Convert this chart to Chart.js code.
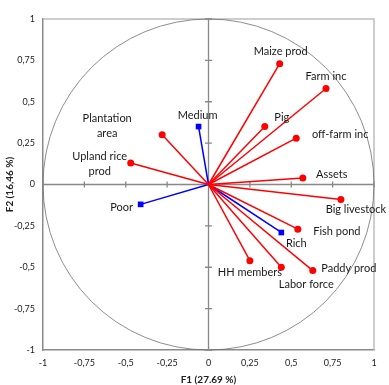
<!DOCTYPE html>
<html>
<head>
<meta charset="utf-8">
<title>PCA correlation circle</title>
<script src="https://cdn.jsdelivr.net/npm/chart.js"></script>
<style>
  html, body { margin: 0; padding: 0; background: #fff; }
</style>
</head>
<body>
<canvas id="pcaChart" width="389" height="385"></canvas>
<script>
// variables (red) - loadings on F1 / F2
const varNames = ['Maize prod', 'Farm inc', 'Pig', 'off-farm inc', 'Assets', 'Big livestock',
  'Fish pond', 'Paddy prod', 'Labor force', 'HH members', 'Plantation area', 'Upland rice prod'];
const varF1 = [0.43, 0.71, 0.34, 0.53, 0.57, 0.80, 0.54, 0.63, 0.44, 0.25, -0.28, -0.47];
const varF2 = [0.73, 0.58, 0.35, 0.28, 0.04, -0.09, -0.27, -0.52, -0.50, -0.46, 0.30, 0.13];

// supplementary groups (blue)
const groupNames = ['Medium', 'Poor', 'Rich'];
const groupF1 = [-0.06, -0.41, 0.44];
const groupF2 = [0.35, -0.12, -0.29];

const axisMin = -1, axisMax = 1, axisStep = 0.25;
const xTitle = 'F1 (27.69 %)';
const yTitle = 'F2 (16,46 %)';

// label placement relative to the marker (px), multi-line where needed
const labelPlace = {
  'Maize prod': { dx: 1, dy: -12 },
  'Farm inc': { dx: 0, dy: -12 },
  'Pig': { dx: 17, dy: -9 },
  'off-farm inc': { dx: 44, dy: -4 },
  'Assets': { dx: 29, dy: -3 },
  'Big livestock': { dx: 15, dy: 10 },
  'Fish pond': { dx: 39, dy: 2 },
  'Paddy prod': { dx: 36, dy: -2 },
  'Labor force': { dx: 25, dy: 17 },
  'HH members': { dx: 0, dy: 12 },
  'Plantation area': { dx: -55, dy: -16, lines: ['Plantation', 'area'] },
  'Upland rice prod': { dx: -31, dy: -7, lines: ['Upland rice', 'prod'] },
  'Medium': { dx: -1, dy: -11 },
  'Poor': { dx: -19, dy: 3 },
  'Rich': { dx: 15, dy: 11 }
};

const fmt = v => String(v).replace('.', ',');

function arrow(name, fx, fy, color, style) {
  return {
    label: name,
    data: [{ x: 0, y: 0 }, { x: fx, y: fy }],
    borderColor: color,
    backgroundColor: color,
    borderWidth: 1.5,
    pointStyle: style,
    pointRadius: [0, style === 'rect' ? 4 : 3.5],
    pointHoverRadius: [0, 4],
    pointBorderWidth: 0,
    showLine: true,
    fill: false
  };
}

const datasets = [];
varNames.forEach((n, i) => datasets.push(arrow(n, varF1[i], varF2[i], '#ff0000', 'circle')));
groupNames.forEach((n, i) => datasets.push(arrow(n, groupF1[i], groupF2[i], '#0000ff', 'rect')));

// circle, frame and axes through the origin
const circlePlugin = {
  id: 'circle',
  beforeDatasetsDraw(chart) {
    const { ctx, chartArea: a, scales: { x, y } } = chart;
    const cx = x.getPixelForValue(0), cy = y.getPixelForValue(0);
    ctx.save();
    ctx.strokeStyle = '#bdbdbd';
    ctx.lineWidth = 1.5;
    ctx.beginPath();
    ctx.moveTo(a.left, a.top);
    ctx.lineTo(a.right, a.top);
    ctx.lineTo(a.right, a.bottom);
    ctx.stroke();

    ctx.strokeStyle = '#707070';
    ctx.lineWidth = 0.8;
    ctx.beginPath();
    ctx.ellipse(cx, cy, x.getPixelForValue(1) - cx, cy - y.getPixelForValue(1), 0, 0, Math.PI * 2);
    ctx.stroke();

    ctx.strokeStyle = '#888888';
    ctx.lineWidth = 1.3;
    ctx.beginPath();
    ctx.moveTo(a.left, cy); ctx.lineTo(a.right, cy);
    ctx.moveTo(cx, a.top); ctx.lineTo(cx, a.bottom);
    x.ticks.forEach(t => {
      const px = x.getPixelForValue(t.value);
      ctx.moveTo(px, cy - 3); ctx.lineTo(px, cy + 3);
    });
    y.ticks.forEach(t => {
      const py = y.getPixelForValue(t.value);
      ctx.moveTo(cx - 3.5, py); ctx.lineTo(cx + 3.5, py);
    });
    ctx.stroke();
    ctx.restore();
  },
  afterDatasetsDraw(chart) {
    const { ctx } = chart;
    ctx.save();
    ctx.font = '11px Lato';
    ctx.fillStyle = '#1a1a1a';
    ctx.textAlign = 'center';
    ctx.textBaseline = 'middle';
    chart.data.datasets.forEach((ds, i) => {
      const pt = chart.getDatasetMeta(i).data[1];
      const place = labelPlace[ds.label] || { dx: 0, dy: -10 };
      const lines = place.lines || [ds.label];
      lines.forEach((ln, k) => ctx.fillText(ln, pt.x + place.dx, pt.y + place.dy + k * 15));
    });
    ctx.restore();
  }
};

const tickFont = { family: 'Lato', size: 9 };
const titleFont = { family: 'Lato', size: 10, weight: 'bold' };

new Chart(document.getElementById('pcaChart'), {
  type: 'scatter',
  data: { datasets },
  options: {
    responsive: false,
    animation: false,
    layout: { padding: { top: 19, right: 15, left: 0, bottom: 0 } },
    plugins: { legend: { display: false }, tooltip: { enabled: false } },
    scales: {
      x: {
        type: 'linear', min: axisMin, max: axisMax,
        afterFit: s => { s.height = 35; },
        grid: { display: false, drawTicks: false },
        border: { color: '#8a8a8a', width: 1.5 },
        ticks: { stepSize: axisStep, padding: 8, color: '#222', font: tickFont, callback: fmt },
        title: { display: true, text: xTitle, color: '#222', font: titleFont, padding: { top: 0, bottom: -1 } }
      },
      y: {
        type: 'linear', min: axisMin, max: axisMax,
        afterFit: s => { s.width = 43; },
        grid: { display: false, drawTicks: false },
        border: { color: '#8a8a8a', width: 1.5 },
        ticks: { stepSize: axisStep, padding: 8, color: '#222', font: tickFont, callback: fmt },
        title: { display: true, text: yTitle, color: '#222', font: titleFont, padding: { top: 4, bottom: 0 } }
      }
    }
  },
  plugins: [circlePlugin]
});
</script>
</body>
</html>
